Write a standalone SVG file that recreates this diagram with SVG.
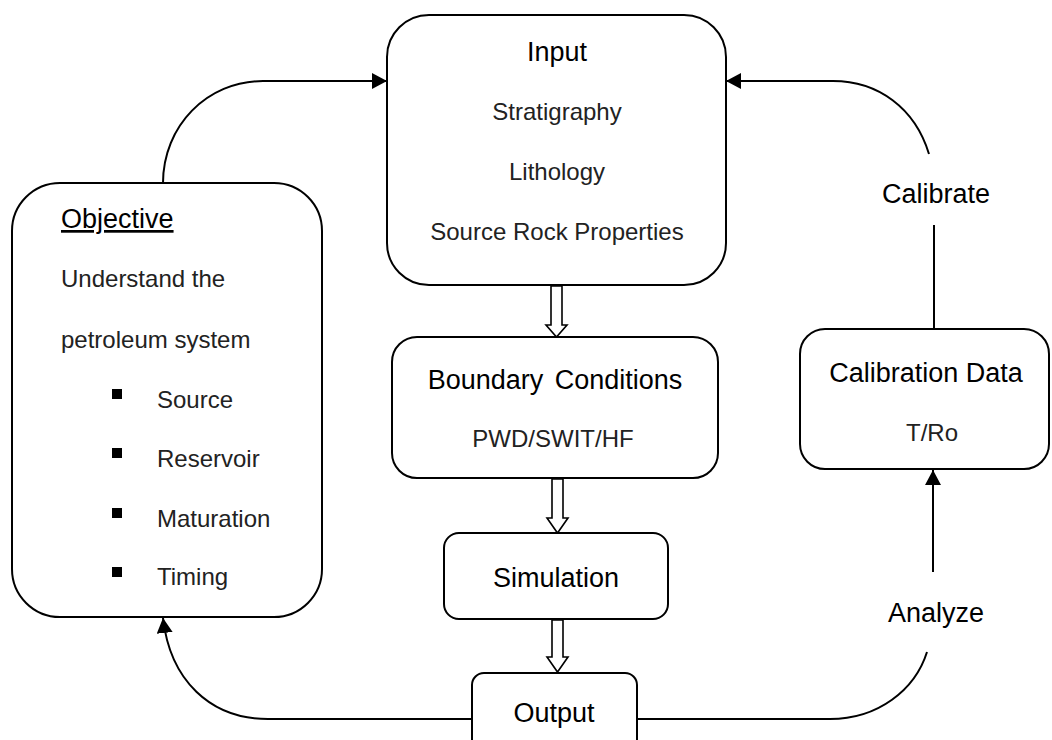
<svg xmlns="http://www.w3.org/2000/svg" width="1052" height="740" viewBox="0 0 1052 740">
<defs>
<style>
.box{fill:#fff;stroke:#000;stroke-width:2}
.h{font-family:"Liberation Sans",Arial,sans-serif;font-size:27px;fill:#000}
.b{font-family:"Liberation Sans",Arial,sans-serif;font-size:24px;fill:#222}
.c{fill:none;stroke:#000;stroke-width:2}
.ha{fill:#fff;stroke:#000;stroke-width:1.6;stroke-linejoin:miter}
</style>
<marker id="arr" viewBox="0 0 15 16" refX="15" refY="8" markerWidth="15" markerHeight="16" markerUnits="userSpaceOnUse" orient="auto">
<path d="M0,0 L15,8 L0,16 Z" fill="#000"/>
</marker>
</defs>
<rect width="1052" height="740" fill="#fff"/>

<g id="connectors">
<path class="c" d="M163,183 C163,126 207,81 263,81 H387" marker-end="url(#arr)"/>
<path class="c" d="M929,154 C915,108 878,81 833,81 H726" marker-end="url(#arr)"/>
<path class="c" d="M934,328 V225"/>
<path class="c" d="M933,572 V470" marker-end="url(#arr)"/>
<path class="c" d="M637,719 H830 C878,719 915,690 927,652"/>
<path class="c" d="M472,719 H268 C210,719 170,680 163,618" marker-end="url(#arr)"/>
<polygon class="ha" points="551,286 551,325 546,325 556.5,337 567,325 562,325 562,286"/>
<polygon class="ha" points="552,479 552,518 547,518 557.5,533 568,518 563,518 563,479"/>
<polygon class="ha" points="552,620 552,657 547,657 557.5,672 568,657 563,657 563,620"/>
<text class="h" x="936" y="203" text-anchor="middle">Calibrate</text>
<text class="h" x="936" y="622" text-anchor="middle">Analyze</text>
</g>

<g id="input">
<rect class="box" x="387" y="15" width="339" height="270" rx="42"/>
<text class="h" x="557" y="61" text-anchor="middle">Input</text>
<text class="b" x="557" y="120" text-anchor="middle">Stratigraphy</text>
<text class="b" x="557" y="180" text-anchor="middle">Lithology</text>
<text class="b" x="557" y="240" text-anchor="middle">Source Rock Properties</text>
</g>

<g id="objective">
<rect class="box" x="12" y="183" width="310" height="434" rx="48"/>
<text class="h" x="61" y="228" text-decoration="underline">Objective</text>
<text class="b" x="61" y="287">Understand the</text>
<text class="b" x="61" y="348">petroleum system</text>
<rect x="112" y="389" width="10" height="10" fill="#000"/>
<text class="b" x="157" y="408">Source</text>
<rect x="112" y="448" width="10" height="10" fill="#000"/>
<text class="b" x="157" y="467">Reservoir</text>
<rect x="112" y="508" width="10" height="10" fill="#000"/>
<text class="b" x="157" y="527">Maturation</text>
<rect x="112" y="567" width="10" height="10" fill="#000"/>
<text class="b" x="157" y="585">Timing</text>
</g>

<g id="boundary">
<rect class="box" x="392" y="337" width="326" height="141" rx="25"/>
<text class="h" x="555" y="389" text-anchor="middle" word-spacing="4">Boundary Conditions</text>
<text class="b" x="553" y="447" text-anchor="middle">PWD/SWIT/HF</text>
</g>

<g id="simulation">
<rect class="box" x="444" y="533" width="224" height="86" rx="15"/>
<text class="h" x="556" y="587" text-anchor="middle">Simulation</text>
</g>

<g id="output">
<rect class="box" x="472" y="673" width="165" height="90" rx="12"/>
<text class="h" x="554" y="722" text-anchor="middle">Output</text>
</g>

<g id="calibration">
<rect class="box" x="800" y="329" width="249" height="140" rx="25"/>
<text class="h" x="926" y="382" text-anchor="middle">Calibration Data</text>
<text class="b" x="932" y="441" text-anchor="middle">T/Ro</text>
</g>
</svg>
